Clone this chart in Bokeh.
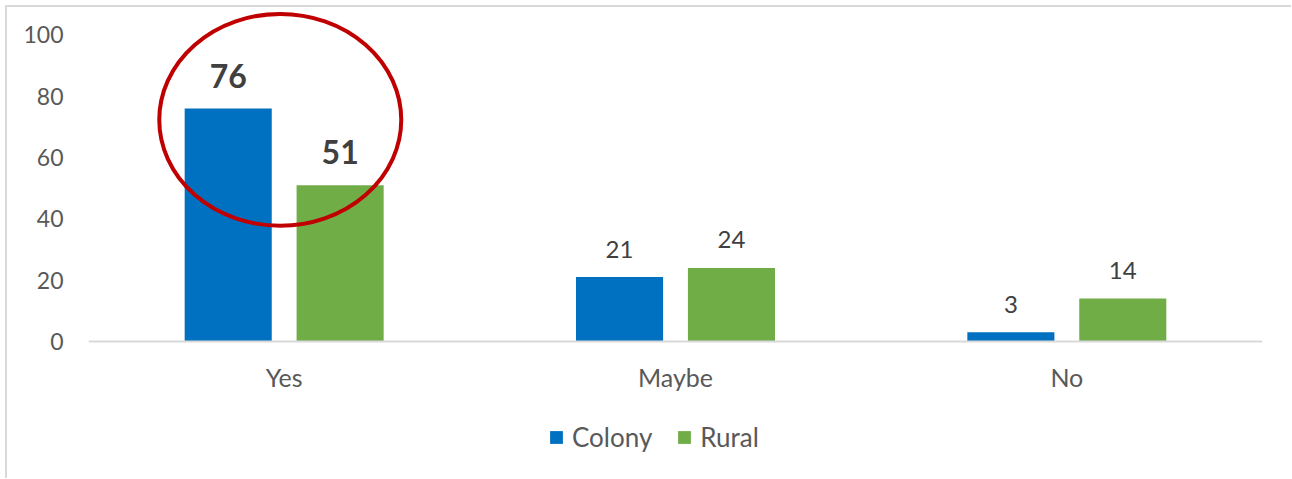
from bokeh.plotting import figure
from bokeh.models import FactorRange, Range1d, FixedTicker, Legend, LegendItem, ColumnDataSource, Span
from bokeh.transform import dodge
from bokeh.core.properties import value
from bokeh.embed import file_html
from bokeh.resources import INLINE

# ---- data ----
categories = ["Yes", "Maybe", "No"]
colony = [76, 21, 3]
rural = [51, 24, 14]
series_names = ["Colony", "Rural"]
y_ticks = [0, 20, 40, 60, 80, 100]
highlight_category = "Yes"

BLUE = "#0070C0"
GREEN = "#70AD47"
FONT = "Lato"
GRAY = "#595959"
DARK = "#404040"

src = ColumnDataSource(dict(
    cat=categories,
    colony=colony,
    rural=rural,
    colony_lbl=[str(v) for v in colony],
    rural_lbl=[str(v) for v in rural],
    base=[0] * len(categories),
    fsize=["32px" if c == highlight_category else "24px" for c in categories],
    fstyle=["bold" if c == highlight_category else "normal" for c in categories],
    yoff=[-33 if c == highlight_category else -28 for c in categories],
))

p = figure(
    x_range=FactorRange(*categories, range_padding=0),
    y_range=Range1d(-44.7, 108.3),
    frame_width=1174, frame_height=469,
    output_backend="svg", toolbar_location=None,
    min_border_left=88, min_border_right=29, min_border_top=9, min_border_bottom=0,
)
p.border_fill_color = None
p.styles = {"background": "linear-gradient(#d9d9d9,#d9d9d9) 5px 5px / 2px 100% no-repeat, "
                          "linear-gradient(#d9d9d9,#d9d9d9) 5px 5px / 100% 2px no-repeat, white"}
p.outline_line_color = None
p.xgrid.visible = False
p.ygrid.visible = False
p.xaxis.visible = False

# y axis
p.yaxis.ticker = FixedTicker(ticks=y_ticks)
p.yaxis.axis_line_color = None
p.yaxis.major_tick_line_color = None
p.yaxis.minor_tick_line_color = None
p.yaxis.major_tick_out = 0
p.yaxis.major_label_standoff = 25
p.yaxis.major_label_text_font = FONT
p.yaxis.major_label_text_font_size = "23px"
p.yaxis.major_label_text_color = GRAY

# category axis baseline and labels
p.add_layout(Span(location=0, dimension="width", line_color="#d9d9d9", line_width=2))
p.text(x="cat", y="base", text="cat", source=src, text_align="center", text_baseline="middle",
       y_offset=36, text_font=value(FONT), text_font_size="25px", text_color=GRAY)

OFF = 0.143
BW = 0.2225
r1 = p.vbar(x=dodge("cat", -OFF, range=p.x_range), top="colony", width=BW, source=src,
            fill_color=BLUE, line_color=None)
r2 = p.vbar(x=dodge("cat", OFF, range=p.x_range), top="rural", width=BW, source=src,
            fill_color=GREEN, line_color=None)

for col, off in (("colony", -OFF), ("rural", OFF)):
    p.text(x=dodge("cat", off, range=p.x_range), y=col, text=col + "_lbl", source=src,
           text_align="center", text_baseline="alphabetic", y_offset="yoff",
           text_font=value(FONT), text_font_size="fsize", text_font_style="fstyle",
           text_color=DARK)

# highlight ellipse
hl = ColumnDataSource(dict(x=[highlight_category], y=[72.3]))
p.ellipse(x=dodge("x", -0.01, range=p.x_range), y="y", width=242, height=212,
          width_units="screen", height_units="screen", source=hl,
          fill_color=None, line_color="#C00000", line_width=4)

legend = Legend(items=[LegendItem(label=series_names[0], renderers=[r1]),
                       LegendItem(label=series_names[1], renderers=[r2])],
                orientation="horizontal", location=(460, 25),
                glyph_width=16, glyph_height=16, label_standoff=8, spacing=24,
                label_height=16,
                label_text_font=FONT, label_text_font_size="26px", label_text_color=GRAY,
                border_line_color=None, background_fill_alpha=0, padding=0, margin=0)
p.add_layout(legend, "center")

open("out.html", "w").write(file_html(p, INLINE))
